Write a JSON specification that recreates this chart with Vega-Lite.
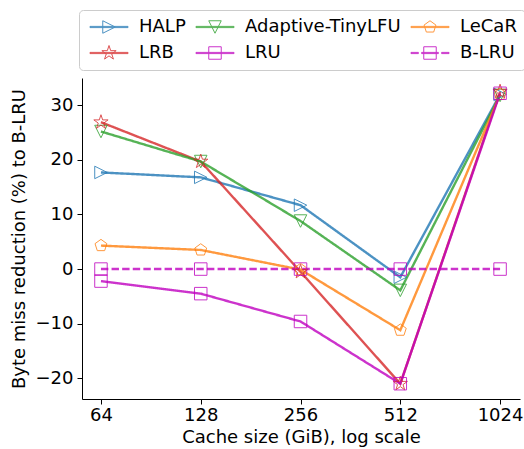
{
  "$schema": "https://vega.github.io/schema/vega-lite/v6.json",
  "width": 438,
  "height": 321,
  "autosize": "none",
  "padding": {"left": 82, "top": 78, "right": 4, "bottom": 50},
  "config": {
    "font": "DejaVu Sans",
    "view": {"stroke": null},
    "axis": {
      "labelFont": "DejaVu Sans", "titleFont": "DejaVu Sans",
      "labelFontSize": 18, "titleFontSize": 18, "titleFontWeight": "normal",
      "labelColor": "black", "titleColor": "black",
      "domainColor": "black", "tickColor": "black", "domainWidth": 1, "tickWidth": 1,
      "tickSize": 5, "grid": false
    },
    "legend": {"labelFont": "DejaVu Sans", "labelFontSize": 18, "labelColor": "black"}
  },
  "data": {"values": [
    {"size": 64, "policy": "HALP", "value": 17.7},
    {"size": 128, "policy": "HALP", "value": 16.8},
    {"size": 256, "policy": "HALP", "value": 11.7},
    {"size": 512, "policy": "HALP", "value": -1.5},
    {"size": 1024, "policy": "HALP", "value": 32.0},
    {"size": 64, "policy": "LRB", "value": 26.9},
    {"size": 128, "policy": "LRB", "value": 19.7},
    {"size": 256, "policy": "LRB", "value": -0.5},
    {"size": 512, "policy": "LRB", "value": -21.0},
    {"size": 1024, "policy": "LRB", "value": 32.5},
    {"size": 64, "policy": "Adaptive-TinyLFU", "value": 25.2},
    {"size": 128, "policy": "Adaptive-TinyLFU", "value": 19.7},
    {"size": 256, "policy": "Adaptive-TinyLFU", "value": 8.8},
    {"size": 512, "policy": "Adaptive-TinyLFU", "value": -3.9},
    {"size": 1024, "policy": "Adaptive-TinyLFU", "value": 31.8},
    {"size": 64, "policy": "LeCaR", "value": 4.3},
    {"size": 128, "policy": "LeCaR", "value": 3.5},
    {"size": 256, "policy": "LeCaR", "value": -0.1},
    {"size": 512, "policy": "LeCaR", "value": -11.2},
    {"size": 1024, "policy": "LeCaR", "value": 32.0},
    {"size": 64, "policy": "LRU", "value": -2.2},
    {"size": 128, "policy": "LRU", "value": -4.5},
    {"size": 256, "policy": "LRU", "value": -9.6},
    {"size": 512, "policy": "LRU", "value": -21.0},
    {"size": 1024, "policy": "LRU", "value": 32.2},
    {"size": 64, "policy": "B-LRU", "value": 0},
    {"size": 128, "policy": "B-LRU", "value": 0},
    {"size": 256, "policy": "B-LRU", "value": 0},
    {"size": 512, "policy": "B-LRU", "value": 0},
    {"size": 1024, "policy": "B-LRU", "value": 0}
  ]},
  "encoding": {
    "x": {
      "field": "size", "type": "quantitative",
      "scale": {"type": "log", "base": 2, "domain": [56.1, 1176], "nice": false, "zero": false},
      "axis": {"values": [64, 128, 256, 512, 1024], "format": "d", "title": "Cache size (GiB), log scale", "labelPadding": 2, "titlePadding": 4}
    },
    "y": {
      "field": "value", "type": "quantitative",
      "scale": {"domain": [-23.8, 35], "nice": false, "zero": false},
      "axis": {"values": [-20, -10, 0, 10, 20, 30], "title": "Byte miss reduction (%) to B-LRU", "labelPadding": 4, "titlePadding": 7}
    },
    "color": {
      "field": "policy", "type": "nominal",
      "scale": {
        "domain": ["HALP", "Adaptive-TinyLFU", "LeCaR", "LRB", "LRU", "B-LRU"],
        "range": ["#1f77b4", "#2ca02c", "#ff7f0e", "#d62728", "#bf00bf", "#bf00bf"]
      },
      "legend": {
        "title": null,
        "orient": "none",
        "legendX": -3,
        "legendY": -68,
        "columns": 3,
        "direction": "horizontal",
        "symbolSize": 144,
        "symbolStrokeWidth": 1,
        "symbolOpacity": 0.8,
        "labelOffset": 34,
        "columnPadding": 7,
        "rowPadding": 7,
        "padding": 8,
        "strokeColor": "#cccccc",
        "fillColor": "white",
        "cornerRadius": 4,
        "symbolFillColor": "transparent",
        "encode": {
          "symbols": {
            "update": {
              "fill": {"value": "transparent"},
              "shape": {"signal": "datum.value === 'HALP' ? 'M-1,-0.1H5.333V0.1H-1ZM3.207,0L1.127,-1.04L1.127,1.04Z' : datum.value === 'Adaptive-TinyLFU' ? 'M-1,-0.1H5.333V0.1H-1ZM2.167,1.04L1.127,-1.04L3.207,-1.04Z' : datum.value === 'LeCaR' ? 'M-1,-0.1H5.333V0.1H-1ZM2.167,-1.04L3.156,-0.321L2.779,0.841L1.555,0.841L1.178,-0.321Z' : datum.value === 'LRB' ? 'M-1,-0.1H5.333V0.1H-1ZM2.167,-1.25L2.448,-0.386L3.356,-0.386L2.621,0.148L2.902,1.011L2.167,0.478L1.432,1.011L1.713,0.148L0.978,-0.386L1.886,-0.386Z' : datum.value === 'LRU' ? 'M-1,-0.1H5.333V0.1H-1ZM1.127,-1.04H3.207V1.04H1.127Z' : 'M-1,-0.1H0.233V0.1H-1ZM0.767,-0.1H3.567V0.1H0.767ZM4.1,-0.1H5.333V0.1H4.1ZM1.127,-1.04H3.207V1.04H1.127Z'"}
            }
          }
        }
      }
    }
  },
  "layer": [
    {
      "mark": {"type": "line", "strokeWidth": 2.4, "opacity": 0.8},
      "encoding": {
        "strokeDash": {
          "condition": {"test": "datum.policy === 'B-LRU'", "value": [7.4, 3.2]},
          "value": [1, 0]
        }
      }
    },
    {
      "transform": [{"filter": {"field": "policy", "equal": "HALP"}}],
      "mark": {"type": "point", "filled": false, "strokeWidth": 1, "opacity": 0.8, "size": 156, "shape": "M1,0L-1,-1L-1,1Z"}
    },
    {
      "transform": [{"filter": {"field": "policy", "equal": "Adaptive-TinyLFU"}}],
      "mark": {"type": "point", "filled": false, "strokeWidth": 1, "opacity": 0.8, "size": 156, "shape": "M0,1L-1,-1L1,-1Z"}
    },
    {
      "transform": [{"filter": {"field": "policy", "equal": "LeCaR"}}],
      "mark": {"type": "point", "filled": false, "strokeWidth": 1, "opacity": 0.8, "size": 156, "shape": "M0,-1L0.951,-0.309L0.588,0.809L-0.588,0.809L-0.951,-0.309Z"}
    },
    {
      "transform": [{"filter": {"field": "policy", "equal": "LRB"}}],
      "mark": {"type": "point", "filled": false, "strokeWidth": 1, "opacity": 0.8, "size": 156, "shape": "M0,-1.2L0.269,-0.371L1.141,-0.371L0.436,0.142L0.705,0.971L0,0.458L-0.705,0.971L-0.436,0.142L-1.141,-0.371L-0.269,-0.371Z"}
    },
    {
      "transform": [{"filter": {"field": "policy", "oneOf": ["LRU", "B-LRU"]}}],
      "mark": {"type": "point", "filled": false, "strokeWidth": 1, "opacity": 0.8, "size": 156, "shape": "M-1,-1H1V1H-1Z"}
    }
  ]
}
